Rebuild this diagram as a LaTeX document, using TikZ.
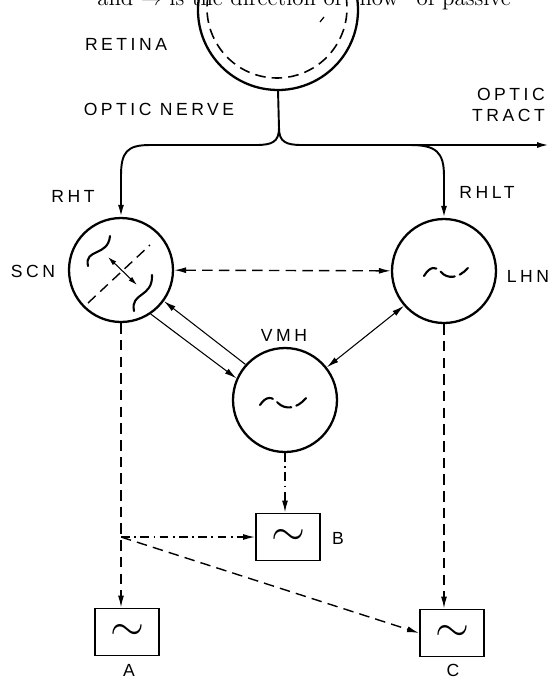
\documentclass[tikz,border=0pt]{standalone}
\usepackage{fontspec}
\newfontfamily\lblfont[LetterSpace=20]{Liberation Sans}
\usetikzlibrary{arrows.meta}
\tikzset{
  nucleus/.style={draw, circle, line width=1.3pt, minimum size=2.08cm, inner sep=0pt},
  clockbox/.style={draw, line width=1.1pt, minimum width=1.28cm, minimum height=0.94cm, inner sep=0pt, font=\Huge},
  lbl/.style={font=\fontsize{10}{12}\lblfont},
  tip/.style={-{Latex[length=2.4mm,width=1.2mm]}},
  bitip/.style={{Latex[length=2.4mm,width=1.2mm]}-{Latex[length=2.4mm,width=1.2mm]}},
  nerve/.style={line width=1.1pt},
  flowdash/.style={line width=0.8pt, dash pattern=on 6pt off 3.5pt},
  chaindash/.style={line width=0.8pt, dash pattern=on 5pt off 2.5pt on 1pt off 2.5pt},
  wiggle/.style={line width=1.2pt, line cap=round}
}
\begin{document}
\begin{tikzpicture}[x=0.02cm, y=-0.02cm]
\useasboundingbox (0,0) rectangle (549,681);
\node[anchor=base west, inner sep=0pt, font=\fontsize{13}{15}\selectfont] (caption) at (97,5) {and $\rightarrow$ is the direction of ``flow'' of passive};

\coordinate (retc) at (278,10);
\coordinate (retbot) at (278,90);
\draw[line width=1.3pt] ([shift={(188:80)}]retc) arc[start angle=188, end angle=-8, radius=80];
\draw[line width=0.9pt, dash pattern=on 6pt off 3.5pt] ([shift={(190:70)}]277,8) arc[start angle=190, end angle=-10, radius=70];
\draw[line width=0.7pt] (320,22) -- (324,17);

\node[lbl] (retina) at (126,44) {RETINA};
\node[lbl] (nerve) at (159,109) {OPTIC NERVE};
\node[lbl, anchor=east, align=right] (tractlbl) at (551,105) {OPTIC\\TRACT};
\node[lbl] (rht) at (73,196) {RHT};
\node[lbl] (rhlt) at (487,192) {RHLT};

\node[nucleus] (scn) at (121,270) {};
\node[nucleus] (lhn) at (444,271) {};
\node[nucleus] (vmh) at (285,400) {};
\node[lbl] (scnlbl) at (33,271) {SCN};
\node[lbl] (lhnlbl) at (528,276) {LHN};
\node[lbl] (vmhlbl) at (284,335) {VMH};

\node[clockbox] (boxa) at (127,632) {$\sim$};
\node[clockbox] (boxb) at (288,537) {$\sim$};
\node[clockbox] (boxc) at (452,633) {$\sim$};
\node[lbl] (alb) at (129,670) {A};
\node[lbl] (blb) at (338,538) {B};
\node[lbl] (clb) at (453,670) {C};

\coordinate (chiasm) at (279,128);
\coordinate (fork) at (410,145);
\coordinate (tract) at (549,145);
\coordinate (split) at (121,537);

\draw[nerve] (retbot) -- (chiasm);
\draw[nerve, tip] (chiasm) .. controls (279,142) and (272,145) .. (256,145) -- (150,145) .. controls (127,145) and (121,152) .. (121,176) -- (scn);
\draw[nerve, tip] (chiasm) .. controls (279,142) and (286,145) .. (302,145) -- (tract);
\draw[nerve, tip] (fork) .. controls (436,145) and (444,152) .. (444,176) -- (lhn);

\draw[flowdash] (88,303) -- (150,245);
\draw[line width=0.6pt, {Latex[length=1.8mm,width=1mm]}-{Latex[length=1.8mm,width=1mm]}] (108,257) -- (137,285);
\draw[wiggle] (88,266) .. controls (84,248) and (108,257) .. (110,236);
\draw[wiggle] (134,311) .. controls (130,292) and (153,298) .. (152,275);
\draw[wiggle, dash pattern=on 9pt off 3pt] (424,276) .. controls (430,266) and (436,266) .. (441,272) .. controls (447,279) and (458,279) .. (468,268);
\draw[wiggle, dash pattern=on 9pt off 3pt] (260,405) .. controls (266,396) and (272,396) .. (278,403) .. controls (285,410) and (297,409) .. (306,398);

\draw[line width=0.6pt, tip] (scn.-56) -- (vmh.156);
\draw[line width=0.6pt, tip] (vmh.138) -- (scn.-36);
\draw[line width=0.6pt, bitip] (vmh.38) -- (lhn.221);
\draw[flowdash, bitip] (scn) -- (lhn);

\draw[flowdash, tip] (scn.south) -- (scn.south |- boxa.north);
\draw[flowdash, tip] (lhn.south) -- (lhn.south |- boxc.north);
\draw[chaindash, tip] (vmh.south) -- (vmh.south |- boxb.north);
\draw[chaindash, tip] (split) -- (boxb.west);
\draw[flowdash, tip] (split) -- (boxc.west);
\end{tikzpicture}
\end{document}
